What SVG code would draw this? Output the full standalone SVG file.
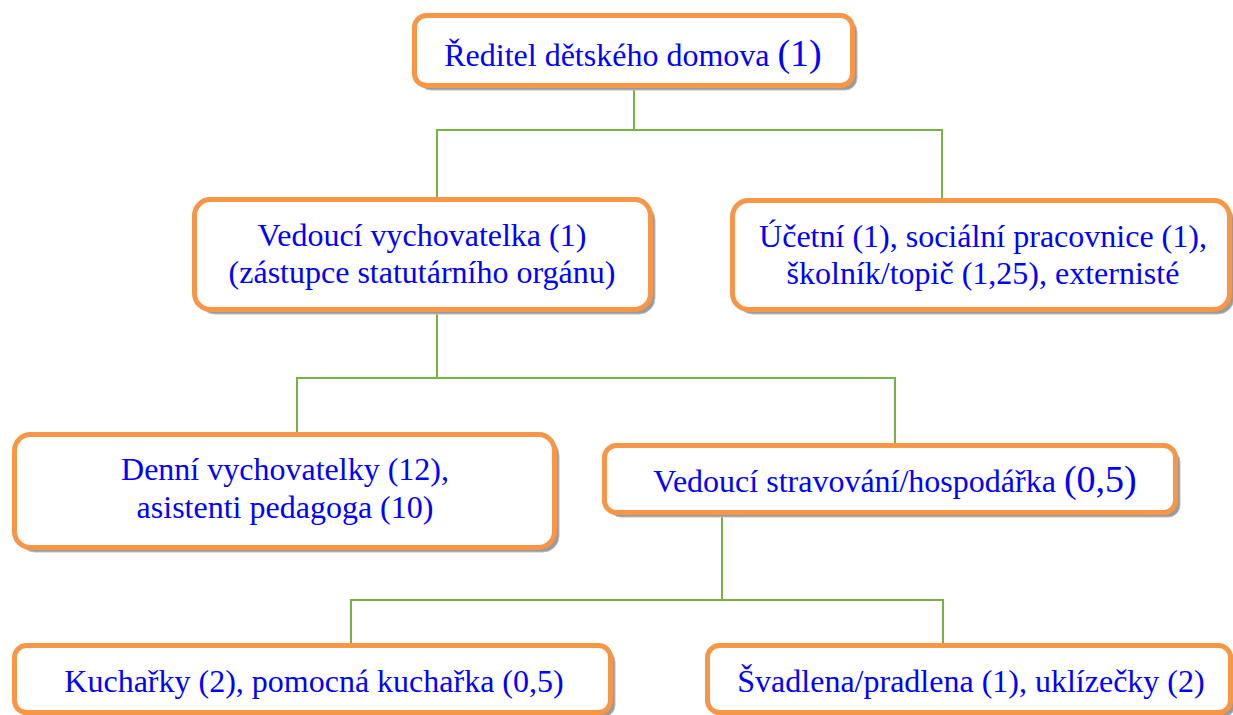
<svg xmlns="http://www.w3.org/2000/svg" width="1233" height="715" viewBox="0 0 1233 715">
<style>
.box{fill:#fff;stroke:#F79646;stroke-width:5}
.sh{fill:#9a9a9a;stroke:#bdbdbd;stroke-width:1}
.c{fill:none;stroke:#77B245;stroke-width:2}
</style>
<rect width="1233" height="715" fill="#fff"/>
<g id="connectors">
<polyline class="c" points="634,88 634,130"/>
<polyline class="c" points="437,197 437,130 942,130 942,198"/>
<polyline class="c" points="437,312 437,378"/>
<polyline class="c" points="297,432 297,378 895,378 895,443"/>
<polyline class="c" points="722,515 722,600"/>
<polyline class="c" points="351,643 351,600 943,600 943,643"/>
</g>
<g id="n1">
<rect class="sh" x="419" y="20" width="438" height="70" rx="12"/>
<rect class="box" x="414.5" y="15.5" width="438" height="70" rx="12"/>
<text x="633" y="66" font-family="Liberation Serif" font-size="32" fill="#0000FF" text-anchor="middle">Ředitel dětského domova <tspan font-size="38">(1)</tspan></text>
</g>
<g id="n2">
<rect class="sh" x="199" y="204" width="456" height="110" rx="16"/>
<rect class="box" x="194.5" y="199.5" width="456" height="110" rx="16"/>
<text x="422" y="246" font-family="Liberation Serif" font-size="32" fill="#0000FF" text-anchor="middle">Vedoucí vychovatelka (1)</text>
<text x="422" y="283" font-family="Liberation Serif" font-size="32" fill="#0000FF" text-anchor="middle">(zástupce statutárního orgánu)</text>
</g>
<g id="n3">
<rect class="sh" x="737" y="205" width="497" height="109" rx="16"/>
<rect class="box" x="732.5" y="200.5" width="497" height="109" rx="16"/>
<text x="983" y="247" font-family="Liberation Serif" font-size="32" fill="#0000FF" text-anchor="middle">Účetní (1), sociální pracovnice (1),</text>
<text x="983" y="284" font-family="Liberation Serif" font-size="32" fill="#0000FF" text-anchor="middle">školník/topič (1,25), externisté</text>
</g>
<g id="n4">
<rect class="sh" x="19" y="439" width="540" height="113" rx="16"/>
<rect class="box" x="14.5" y="434.5" width="540" height="113" rx="16"/>
<text x="285" y="480" font-family="Liberation Serif" font-size="32" fill="#0000FF" text-anchor="middle">Denní vychovatelky (12),</text>
<text x="285" y="518" font-family="Liberation Serif" font-size="32" fill="#0000FF" text-anchor="middle">asistenti pedagoga (10)</text>
</g>
<g id="n5">
<rect class="sh" x="609" y="450" width="571" height="67" rx="12"/>
<rect class="box" x="604.5" y="445.5" width="571" height="67" rx="12"/>
<text x="895" y="492" font-family="Liberation Serif" font-size="32" fill="#0000FF" text-anchor="middle">Vedoucí stravování/hospodářka <tspan font-size="38">(0,5)</tspan></text>
</g>
<g id="n6">
<rect class="sh" x="19" y="650" width="596" height="67" rx="12"/>
<rect class="box" x="14.5" y="645.5" width="596" height="67" rx="12"/>
<text x="314" y="692" font-family="Liberation Serif" font-size="32" fill="#0000FF" text-anchor="middle">Kuchařky (2), pomocná kuchařka (0,5)</text>
</g>
<g id="n7">
<rect class="sh" x="712" y="650" width="523" height="67" rx="12"/>
<rect class="box" x="707.5" y="645.5" width="523" height="67" rx="12"/>
<text x="971" y="692" font-family="Liberation Serif" font-size="32" fill="#0000FF" text-anchor="middle">Švadlena/pradlena (1), uklízečky (2)</text>
</g>
</svg>
